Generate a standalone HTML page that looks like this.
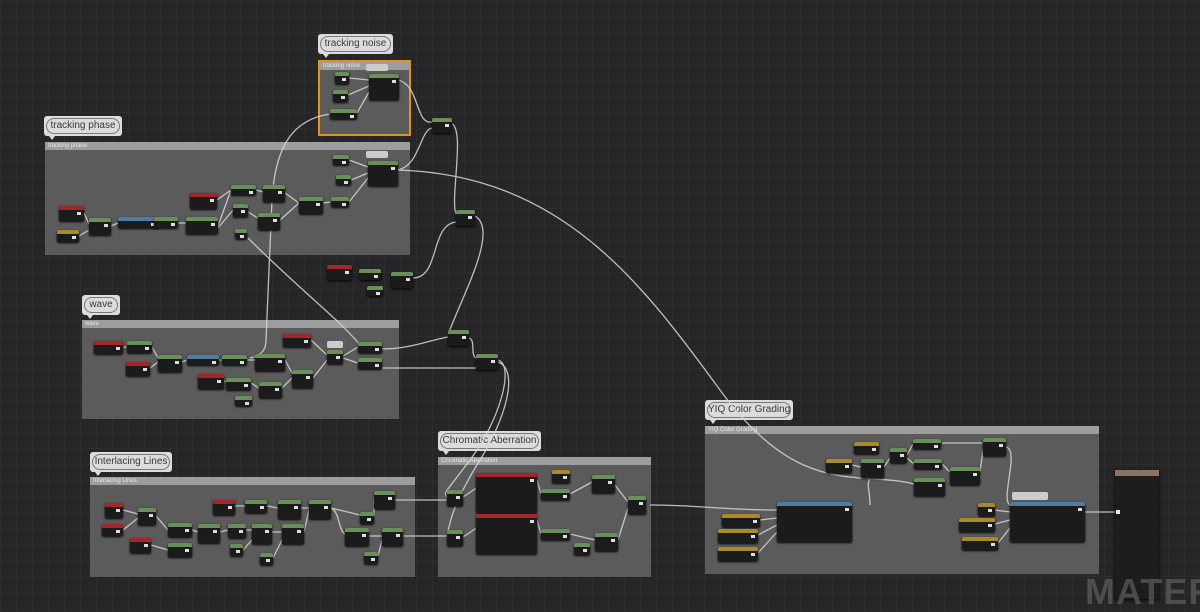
<!DOCTYPE html>
<html><head><meta charset="utf-8"><style>
body{margin:0;width:1200px;height:599px;overflow:hidden;background:#262628;
background-image:linear-gradient(#2d2d30 1px,transparent 1px),linear-gradient(90deg,#2d2d30 1px,transparent 1px);background-size:16px 16px;font-family:"Liberation Sans",sans-serif;position:relative}
.c{position:absolute;background:#5b5b5c;box-sizing:border-box}
.c .h{position:absolute;left:0;top:0;right:0;height:8px;background:#9d9d9f;color:#e8e8e8;font-size:6px;line-height:8px;padding-left:3px}
.b{position:absolute;background:#dcdcdc;border-radius:3px;padding:2px;box-sizing:border-box}
.b:after{content:"";position:absolute;left:5px;bottom:-4px;border-left:3px solid transparent;border-right:3px solid transparent;border-top:4px solid #dcdcdc}
.b span{display:block;border:1.5px solid #777;border-radius:9px;height:100%;box-sizing:border-box;font-size:10px;color:#3a3a3a;text-align:center;line-height:14px;white-space:nowrap}
.n{position:absolute;background:#1b1b1c;border-radius:2px;box-shadow:0 1px 2px #000;display:block}
.n:before{content:"";position:absolute;left:0;right:0;top:0;height:4px;border-radius:2px 2px 0 0;background:var(--c)}
.n:after{content:"";position:absolute;right:3px;top:6px;width:4px;height:3px;background:#ddd}
.g{--c:#6b8f5a}.r{--c:#a3262a}.y{--c:#a8892e}.u{--c:#4d7da3}
svg{position:absolute;left:0;top:0}
</style></head><body>
<div class="c" style="left:45px;top:142px;width:365px;height:113px"><div class="h">tracking phase</div></div>
<div class="c" style="left:318px;top:60px;width:93px;height:76px;border:2px solid #e0941f"><div class="h">tracking noise</div></div>
<div class="c" style="left:82px;top:320px;width:317px;height:99px"><div class="h">wave</div></div>
<div class="c" style="left:90px;top:477px;width:325px;height:100px"><div class="h">Interlacing Lines</div></div>
<div class="c" style="left:438px;top:457px;width:213px;height:120px"><div class="h">Chromatic Aberration</div></div>
<div class="c" style="left:705px;top:426px;width:394px;height:148px"><div class="h">YIQ Color Grading</div></div>
<div class="b" style="left:318px;top:34px;width:75px;height:20px"><span>tracking noise</span></div>
<div class="b" style="left:44px;top:116px;width:78px;height:20px"><span>tracking phase</span></div>
<div class="b" style="left:82px;top:295px;width:38px;height:20px"><span>wave</span></div>
<div class="b" style="left:90px;top:452px;width:82px;height:20px"><span>Interlacing Lines</span></div>
<div class="b" style="left:438px;top:431px;width:103px;height:20px"><span>Chromatic Aberration</span></div>
<div class="b" style="left:705px;top:400px;width:88px;height:20px"><span>YIQ Color Grading</span></div>
<svg width="1200" height="599" fill="none" stroke="#d8d8d8" stroke-width="1.3" opacity=".85">
<path d="M398 170 C560 175 640 280 720 390 S860 470 914 484"/>
<path d="M330 114 C290 120 275 150 272 200 L266 340 C266 350 262 355 250 358"/>
<path d="M248 238 C300 290 340 320 360 345"/>
<path d="M398 80 C420 85 415 125 432 122"/>
<path d="M398 170 C420 165 420 130 432 128"/>
<path d="M452 124 C465 130 450 200 456 214"/>
<path d="M413 278 C440 278 430 225 456 222"/>
<path d="M475 216 C500 230 460 300 448 335"/>
<path d="M382 349 C410 349 430 340 448 337"/>
<path d="M382 368 L476 368"/>
<path d="M469 338 C476 340 470 355 476 358"/>
<path d="M498 360 C515 365 500 420 470 460 S445 490 447 498"/>
<path d="M498 362 C520 370 505 420 480 460 S450 520 447 536"/>
<path d="M395 500 L447 500"/>
<path d="M403 536 L447 536"/>
<path d="M650 505 C700 505 720 510 777 510"/>
<path d="M1085 512 L1118 512"/>
<path d="M760 520 L777 518 M758 535 L777 525 M758 553 L777 532"/>
<path d="M995 524 L1010 520 M998 543 L1010 528 M994 510 L1010 512"/>
<path d="M1006 447 C1020 450 1000 500 1010 505"/>
<path d="M852 465 L861 467 M884 467 L890 458 M907 455 L913 444 M907 458 L914 464 M942 443 L983 443 M942 464 L950 472 M980 472 L983 450"/>
<path d="M870 505 C870 490 866 485 870 478"/>
<path d="M537 480 L541 494 M537 520 L541 534 M570 494 L592 482 M570 534 L595 540 M615 485 L628 502 M618 540 L628 508 M463 497 L481 485 M463 537 L481 525"/>
<path d="M84 213 L89 224 M79 236 L89 230 M111 226 L118 223 M158 223 L154 223 M178 223 L186 223 M218 226 L231 190 M218 228 L233 210 M217 200 L231 190 M256 190 L263 192 M248 212 L258 218 M280 220 L299 203 M285 193 L299 203 M323 203 L331 202 M349 202 L368 178 M349 160 L368 167 M351 180 L368 173"/>
<path d="M349 78 L369 80 M348 95 L369 86 M357 113 L369 92"/>
<path d="M123 347 L127 347 M150 368 L158 362 M152 347 L158 358 M182 362 L187 360 M219 360 L222 360 M247 360 L255 360 M224 380 L226 383 M251 383 L259 388 M282 388 L292 378 M285 360 L292 373 M311 340 L327 355 M313 378 L327 360 M343 356 L358 347 M343 358 L358 363"/>
<path d="M123 510 L138 514 M123 530 L138 518 M156 516 L168 530 M151 545 L168 550 M192 530 L198 532 M220 532 L228 530 M246 530 L252 530 M272 532 L282 532 M235 506 L245 506 M267 506 L278 508 M301 508 L309 508 M304 532 L309 510 M331 508 L360 515 M331 508 C340 512 338 530 345 534 M374 517 L374 497 M369 536 L382 536 M378 556 L382 540 M243 550 L252 540 M273 558 L282 540"/>
</svg>
<i class="n g" style="left:335px;top:72px;width:14px;height:12px"></i>
<i class="n g" style="left:333px;top:90px;width:15px;height:12px"></i>
<i class="n g" style="left:330px;top:109px;width:27px;height:10px"></i>
<i class="n g" style="left:369px;top:74px;width:30px;height:26px"></i>
<i class="n r" style="left:59px;top:206px;width:25px;height:15px"></i>
<i class="n y" style="left:57px;top:230px;width:22px;height:12px"></i>
<i class="n g" style="left:89px;top:218px;width:22px;height:17px"></i>
<i class="n u" style="left:118px;top:217px;width:40px;height:11px"></i>
<i class="n g" style="left:154px;top:217px;width:24px;height:11px"></i>
<i class="n g" style="left:186px;top:217px;width:32px;height:17px"></i>
<i class="n r" style="left:190px;top:193px;width:27px;height:16px"></i>
<i class="n g" style="left:231px;top:185px;width:25px;height:10px"></i>
<i class="n g" style="left:263px;top:185px;width:22px;height:17px"></i>
<i class="n g" style="left:233px;top:204px;width:15px;height:13px"></i>
<i class="n g" style="left:235px;top:229px;width:12px;height:10px"></i>
<i class="n g" style="left:258px;top:213px;width:22px;height:17px"></i>
<i class="n g" style="left:299px;top:197px;width:24px;height:17px"></i>
<i class="n g" style="left:331px;top:197px;width:18px;height:10px"></i>
<i class="n g" style="left:333px;top:155px;width:16px;height:10px"></i>
<i class="n g" style="left:336px;top:175px;width:15px;height:10px"></i>
<i class="n g" style="left:368px;top:161px;width:30px;height:25px"></i>
<i class="n g" style="left:432px;top:118px;width:20px;height:15px"></i>
<i class="n g" style="left:456px;top:210px;width:19px;height:16px"></i>
<i class="n r" style="left:327px;top:265px;width:25px;height:15px"></i>
<i class="n g" style="left:359px;top:269px;width:22px;height:11px"></i>
<i class="n g" style="left:391px;top:272px;width:22px;height:16px"></i>
<i class="n g" style="left:367px;top:286px;width:16px;height:10px"></i>
<i class="n g" style="left:448px;top:330px;width:21px;height:16px"></i>
<i class="n g" style="left:476px;top:354px;width:22px;height:16px"></i>
<i class="n r" style="left:94px;top:341px;width:29px;height:13px"></i>
<i class="n g" style="left:127px;top:341px;width:25px;height:12px"></i>
<i class="n r" style="left:126px;top:362px;width:24px;height:14px"></i>
<i class="n g" style="left:158px;top:355px;width:24px;height:17px"></i>
<i class="n u" style="left:187px;top:355px;width:32px;height:10px"></i>
<i class="n g" style="left:222px;top:355px;width:25px;height:10px"></i>
<i class="n g" style="left:255px;top:354px;width:30px;height:17px"></i>
<i class="n r" style="left:198px;top:374px;width:26px;height:15px"></i>
<i class="n g" style="left:226px;top:378px;width:25px;height:12px"></i>
<i class="n g" style="left:259px;top:382px;width:23px;height:16px"></i>
<i class="n g" style="left:235px;top:396px;width:17px;height:10px"></i>
<i class="n g" style="left:292px;top:370px;width:21px;height:18px"></i>
<i class="n r" style="left:283px;top:334px;width:28px;height:13px"></i>
<i class="n g" style="left:327px;top:350px;width:16px;height:14px"></i>
<i class="n g" style="left:358px;top:342px;width:24px;height:11px"></i>
<i class="n g" style="left:358px;top:358px;width:24px;height:11px"></i>
<i class="n r" style="left:105px;top:503px;width:18px;height:15px"></i>
<i class="n r" style="left:102px;top:524px;width:21px;height:12px"></i>
<i class="n r" style="left:130px;top:538px;width:21px;height:15px"></i>
<i class="n g" style="left:138px;top:508px;width:18px;height:17px"></i>
<i class="n g" style="left:168px;top:523px;width:24px;height:14px"></i>
<i class="n g" style="left:168px;top:543px;width:24px;height:14px"></i>
<i class="n g" style="left:198px;top:524px;width:22px;height:19px"></i>
<i class="n g" style="left:228px;top:524px;width:18px;height:14px"></i>
<i class="n g" style="left:252px;top:524px;width:20px;height:20px"></i>
<i class="n g" style="left:282px;top:524px;width:22px;height:20px"></i>
<i class="n r" style="left:213px;top:500px;width:22px;height:15px"></i>
<i class="n g" style="left:245px;top:500px;width:22px;height:13px"></i>
<i class="n g" style="left:278px;top:500px;width:23px;height:19px"></i>
<i class="n g" style="left:309px;top:500px;width:22px;height:19px"></i>
<i class="n g" style="left:230px;top:544px;width:13px;height:12px"></i>
<i class="n g" style="left:260px;top:553px;width:13px;height:12px"></i>
<i class="n g" style="left:360px;top:512px;width:14px;height:12px"></i>
<i class="n g" style="left:374px;top:491px;width:21px;height:18px"></i>
<i class="n g" style="left:345px;top:528px;width:24px;height:18px"></i>
<i class="n g" style="left:382px;top:528px;width:21px;height:18px"></i>
<i class="n g" style="left:364px;top:552px;width:14px;height:12px"></i>
<i class="n g" style="left:447px;top:490px;width:16px;height:16px"></i>
<i class="n g" style="left:447px;top:530px;width:16px;height:16px"></i>
<i class="n r" style="left:476px;top:473px;width:61px;height:40px"></i>
<i class="n r" style="left:476px;top:514px;width:61px;height:40px"></i>
<i class="n y" style="left:552px;top:470px;width:18px;height:13px"></i>
<i class="n g" style="left:541px;top:489px;width:29px;height:11px"></i>
<i class="n g" style="left:592px;top:475px;width:23px;height:18px"></i>
<i class="n g" style="left:628px;top:496px;width:18px;height:18px"></i>
<i class="n g" style="left:541px;top:529px;width:29px;height:11px"></i>
<i class="n g" style="left:595px;top:533px;width:23px;height:18px"></i>
<i class="n g" style="left:574px;top:543px;width:16px;height:12px"></i>
<i class="n y" style="left:854px;top:442px;width:25px;height:12px"></i>
<i class="n y" style="left:826px;top:459px;width:26px;height:14px"></i>
<i class="n g" style="left:861px;top:459px;width:23px;height:19px"></i>
<i class="n g" style="left:890px;top:448px;width:17px;height:15px"></i>
<i class="n g" style="left:913px;top:439px;width:28px;height:10px"></i>
<i class="n g" style="left:914px;top:459px;width:28px;height:10px"></i>
<i class="n g" style="left:950px;top:467px;width:30px;height:18px"></i>
<i class="n g" style="left:914px;top:478px;width:31px;height:18px"></i>
<i class="n g" style="left:983px;top:438px;width:23px;height:18px"></i>
<i class="n u" style="left:777px;top:502px;width:75px;height:40px"></i>
<i class="n y" style="left:722px;top:514px;width:38px;height:13px"></i>
<i class="n y" style="left:718px;top:529px;width:40px;height:14px"></i>
<i class="n y" style="left:718px;top:547px;width:40px;height:14px"></i>
<i class="n y" style="left:978px;top:503px;width:17px;height:13px"></i>
<i class="n y" style="left:959px;top:518px;width:36px;height:14px"></i>
<i class="n y" style="left:962px;top:537px;width:36px;height:13px"></i>
<i class="n u" style="left:1010px;top:502px;width:75px;height:40px"></i>
<div style="position:absolute;left:1012px;top:492px;width:36px;height:8px;background:#ccc;border-radius:2px"></div>
<div style="position:absolute;left:366px;top:64px;width:22px;height:7px;background:#ccc;border-radius:2px"></div>
<div style="position:absolute;left:366px;top:151px;width:22px;height:7px;background:#ccc;border-radius:2px"></div>
<div style="position:absolute;left:327px;top:341px;width:16px;height:7px;background:#ccc;border-radius:2px"></div>
<div style="position:absolute;left:1115px;top:470px;width:44px;height:129px;background:#1d1d1e;box-shadow:0 1px 3px #000"><div style="height:6px;background:#8a7462"></div></div>
<div style="position:absolute;left:1116px;top:510px;width:4px;height:4px;background:#eee"></div>
<div style="position:absolute;left:1085px;top:574px;font-size:36px;font-weight:bold;color:#5e5e60;opacity:.7;letter-spacing:1px;line-height:36px">MATER</div>
</body></html>
